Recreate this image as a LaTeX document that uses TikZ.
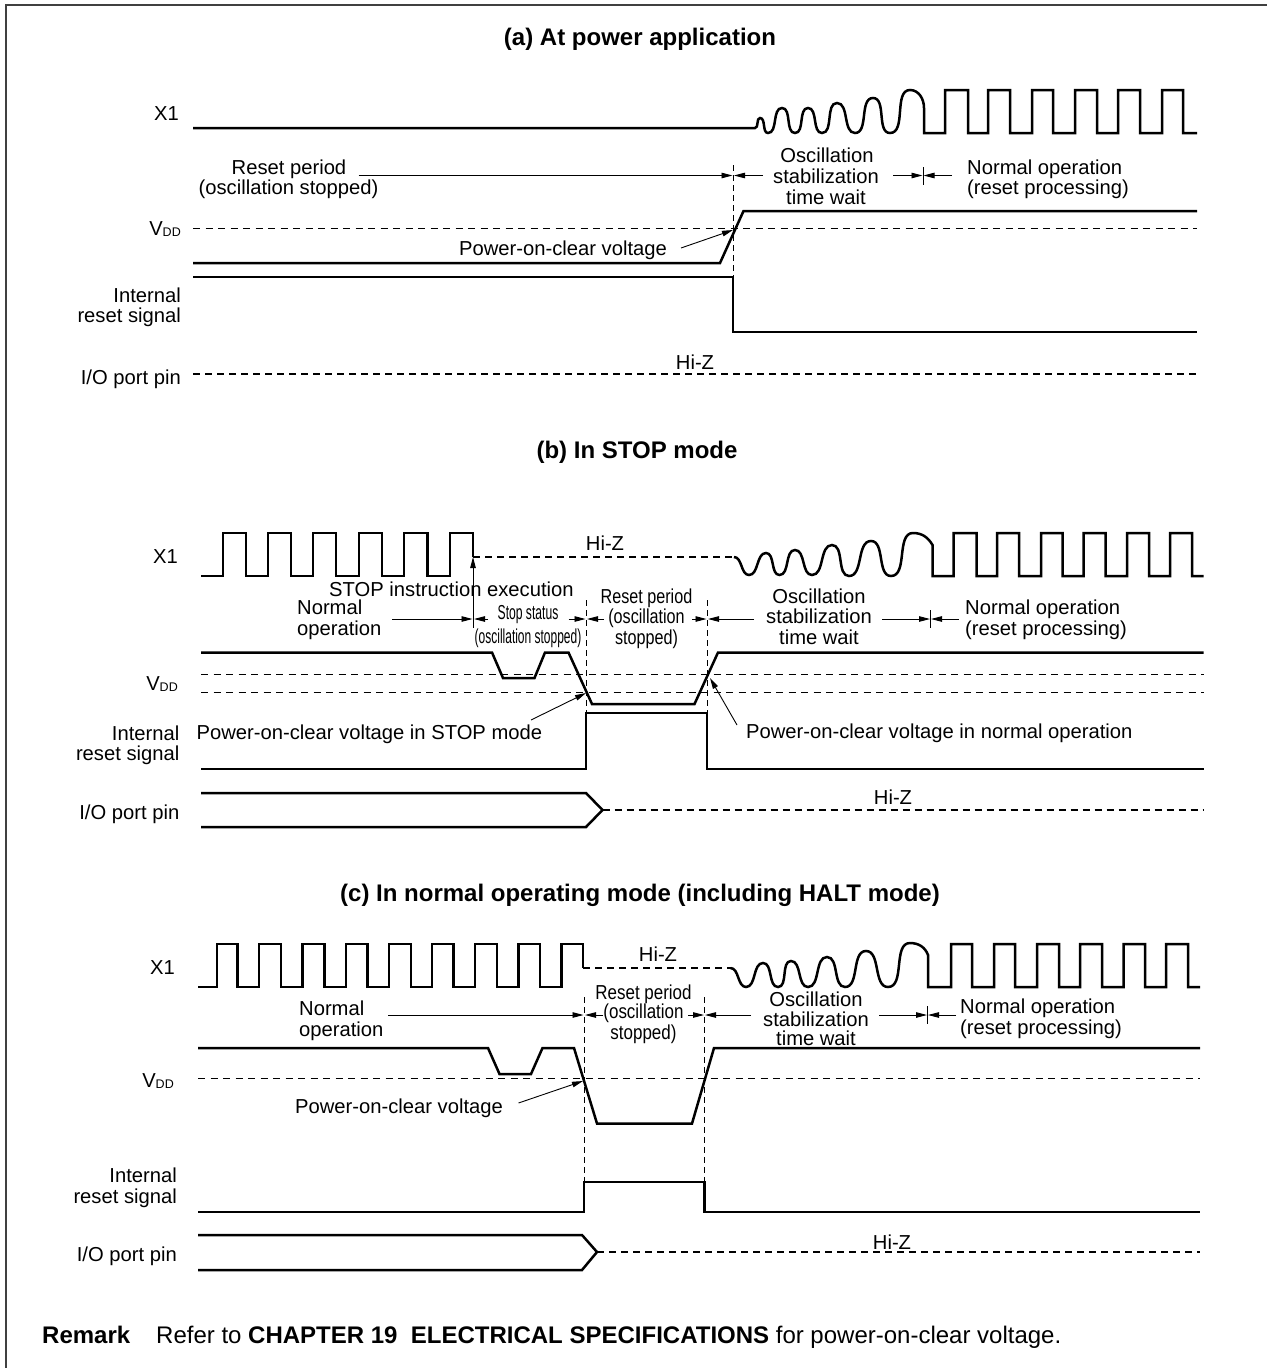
\documentclass[tikz,border=0pt]{standalone}
\usepackage{fontspec}
\setmainfont{Liberation Sans}
\usetikzlibrary{arrows.meta}
\tikzset{
  x=1pt,y=-1pt,
  sig/.style={line width=2.5pt,line join=miter},
  hiz/.style={line width=2.2pt,dash pattern=on 7pt off 5pt},
  refline/.style={line width=1pt,dash pattern=on 7pt off 5.5pt},
  vguide/.style={line width=1pt,dash pattern=on 6pt off 4pt},
  dim/.style={line width=.9pt,-{Triangle[length=11pt,width=5.5pt]}},
  tick/.style={line width=.9pt},
  lbl/.style={inner sep=0pt,text height=14pt,text depth=0pt,font=\fontsize{20.2}{23}\selectfont},
  rlbl/.style={lbl,anchor=east},
  llbl/.style={lbl,anchor=west},
  ttl/.style={lbl,text height=17pt,font=\fontsize{24}{28}\selectfont\bfseries},
  rem/.style={ttl,anchor=west,font=\fontsize{24}{28}\selectfont},
  wv/.style={out=0,in=180,looseness=.9},
}
\newcommand{\vdd}{V\raisebox{-1.5pt}{\fontsize{12.5}{12.5}\selectfont DD}}
\begin{document}
\begin{tikzpicture}
\useasboundingbox (0,0) rectangle (1267,1368);
\draw[line width=1.2pt,black!75] (6,1368) -- (6,5) -- (1267,5);
% ---------- (a)
\node[ttl] (ta) at (640,37) {(a) At power application};
\node[rlbl] (a1) at (179,113) {X1};
\node[lbl] (a2) at (289,167) {Reset period};
\node[lbl] (a3) at (288.5,187) {(oscillation stopped)};
\node[lbl] (a4) at (827,155) {Oscillation};
\node[lbl] (a5) at (826,176) {stabilization};
\node[lbl] (a6) at (826,197) {time wait};
\node[llbl] (a7) at (967,167) {Normal operation};
\node[llbl] (a8) at (967,187) {(reset processing)};
\node[rlbl] (a9) at (181,228) {\vdd};
\node[rlbl] (a10) at (181,295) {Internal};
\node[rlbl] (a10b) at (181,315) {reset signal};
\node[rlbl] (a11) at (181,377) {I/O port pin};
\node[lbl] (a12) at (695,362) {Hi-Z};
\node[llbl] (a13) at (459,248) {Power-on-clear voltage};
\coordinate (as) at (193,128);
\draw[sig] (as) -- (755,128) to[wv] (760,118) to[wv] (768,133) to[wv] (782,108) to[wv] (795,133) to[wv] (808,108) to[wv] (822,133) to[wv] (837,103) to[wv] (855,133) to[wv] (873,98) to[wv] (890,133) to[wv] (910,90) to[out=0,in=90] (924,108) -- (924,133) -- (945,133) -- (945,90) -- (968,90) -- (968,133) -- (988,133) -- (988,90) -- (1010,90) -- (1010,133) -- (1032,133) -- (1032,90) -- (1053,90) -- (1053,133) -- (1075,133) -- (1075,90) -- (1097,90) -- (1097,133) -- (1118,133) -- (1118,90) -- (1140,90) -- (1140,133) -- (1162,133) -- (1162,90) -- (1183,90) -- (1183,133) -- (1197,133);
\draw[refline] (193,228) -- (1197,228);
\draw[sig] (193,263) -- (720,263) -- (743.5,211) -- (1197,211);
\draw[sig] (193,277) -- (733,277) -- (733,332) -- (1197,332);
\draw[hiz] (193,374) -- (1197,374);
\draw[vguide] (733,165) -- (733,277);
\draw[dim] (358.5,175.5) -- (732.5,175.5);
\draw[dim] (763,175.5) -- (734,175.5);
\draw[dim] (893,175.5) -- (922.5,175.5);
\draw[tick] (923,167) -- (923,185);
\draw[dim] (952,175.5) -- (923.5,175.5);
\draw[dim] (681,248) -- (733,230);
% ---------- (b)
\node[ttl] (tb) at (637,450) {(b) In STOP mode};
\node[rlbl] (b1) at (178,556) {X1};
\node[lbl] (b2) at (605,543) {Hi-Z};
\node[llbl] (b3) at (329,589) {STOP instruction execution};
\node[llbl] (b4) at (297,607) {Normal};
\node[llbl] (b5) at (297,628) {operation};
\node[lbl] (b6) at (528,612) {\scalebox{.6}[1]{Stop status}};
\node[lbl] (b7) at (528,636) {\scalebox{.593}[1]{(oscillation stopped)}};
\node[lbl] (b8) at (646.5,596) {\scalebox{.8}[1]{Reset period}};
\node[lbl] (b9) at (646.5,616) {\scalebox{.8}[1]{(oscillation}};
\node[lbl] (b10) at (646.5,637) {\scalebox{.8}[1]{stopped)}};
\node[lbl] (b11) at (819,596) {Oscillation};
\node[lbl] (b12) at (819,616) {stabilization};
\node[lbl] (b13) at (819,637) {time wait};
\node[llbl] (b14) at (965,607) {Normal operation};
\node[llbl] (b15) at (965,628) {(reset processing)};
\node[rlbl] (b16) at (178,683) {\vdd};
\node[rlbl] (b17) at (179.5,733) {Internal};
\node[rlbl] (b17b) at (179.5,753) {reset signal};
\node[rlbl] (b18) at (179.5,812.5) {I/O port pin};
\node[llbl] (b19) at (196.5,732) {Power-on-clear voltage in STOP mode};
\node[llbl] (b20) at (746,731) {Power-on-clear voltage in normal operation};
\node[lbl] (b21) at (893,797) {Hi-Z};
\coordinate (bs) at (201,576);
\draw[sig] (bs) -- (223,576) -- (223,533) -- (246,533) -- (246,576) -- (268,576) -- (268,533) -- (291,533) -- (291,576) -- (313,576) -- (313,533) -- (336,533) -- (336,576) -- (359,576) -- (359,533) -- (382,533) -- (382,576) -- (404,576) -- (404,533) -- (427.5,533) -- (427.5,576) -- (450,576) -- (450,533) -- (473,533) -- (473,557);
\draw[hiz] (473,557) -- (734,557);
\draw[sig] (734,557) to[wv] (749,575) to[wv] (766,553) to[wv] (779.5,575) to[wv] (795,550) to[wv] (812,575) to[wv] (832,545) to[wv] (849,576) to[wv] (871,541) to[wv] (891,576) to[wv] (913,533) to[out=0,in=120] (932.5,545) -- (932.5,576) -- (953.5,576) -- (953.5,533) -- (976.5,533) -- (976.5,576) -- (997,576) -- (997,533) -- (1019,533) -- (1019,576) -- (1041,576) -- (1041,533) -- (1062.5,533) -- (1062.5,576) -- (1083.5,576) -- (1083.5,533) -- (1105.5,533) -- (1105.5,576) -- (1127,576) -- (1127,533) -- (1149,533) -- (1149,576) -- (1170,576) -- (1170,533) -- (1192,533) -- (1192,576) -- (1203.5,576);
\draw[refline] (201,674) -- (1203.5,674);
\draw[refline] (201,692) -- (1203.5,692);
\draw[sig] (201,652.5) -- (492,652.5) -- (503,678) -- (534.5,678) -- (545,652.5) -- (568.5,652.5) -- (592,704) -- (694.5,704) -- (718,652.5) -- (1203.5,652.5);
\draw[sig] (201,769) -- (586,769) -- (586,713) -- (707,713) -- (707,769) -- (1203.5,769);
\draw[sig] (201,793) -- (586,793) -- (602.5,810) -- (586,827) -- (201,827);
\draw[hiz] (602.5,810) -- (1203.5,810);
\draw[vguide] (586,600) -- (586,713);
\draw[vguide] (707,600) -- (707,713);
\draw[dim] (473,597) -- (473,557);
\draw[tick] (473,597) -- (473,628);
\draw[dim] (392,619) -- (472.5,619);
\draw[dim] (488,619) -- (474,619);
\draw[dim] (568.5,619) -- (585.5,619);
\draw[dim] (604,619) -- (587,619);
\draw[dim] (692,619) -- (706.5,619);
\draw[dim] (754,619) -- (708,619);
\draw[dim] (882,619) -- (930,619);
\draw[tick] (930.5,610) -- (930.5,628);
\draw[dim] (958.5,619) -- (931,619);
\draw[dim] (531,720) -- (586,693);
\draw[dim] (737,725) -- (710,678);
% ---------- (c)
\node[ttl] (tc) at (640,893) {(c) In normal operating mode (including HALT mode)};
\node[rlbl] (c1) at (175,967) {X1};
\node[lbl] (c2) at (658,954) {Hi-Z};
\node[llbl] (c3) at (299,1008) {Normal};
\node[llbl] (c4) at (299,1029) {operation};
\node[lbl] (c5) at (643.5,992) {\scalebox{.84}[1]{Reset period}};
\node[lbl] (c6) at (643.5,1011) {\scalebox{.84}[1]{(oscillation}};
\node[lbl] (c7) at (643.5,1032) {\scalebox{.84}[1]{stopped)}};
\node[lbl] (c8) at (816,999) {Oscillation};
\node[lbl] (c9) at (816,1019) {stabilization};
\node[lbl] (c10) at (816,1038) {time wait};
\node[llbl] (c11) at (960,1006) {Normal operation};
\node[llbl] (c12) at (960,1027) {(reset processing)};
\node[rlbl] (c13) at (174,1080) {\vdd};
\node[rlbl] (c14) at (177,1175) {Internal};
\node[rlbl] (c14b) at (177,1196) {reset signal};
\node[rlbl] (c15) at (177,1254) {I/O port pin};
\node[llbl] (c16) at (295,1106) {Power-on-clear voltage};
\node[lbl] (c17) at (892,1242) {Hi-Z};
\coordinate (cs) at (198,987);
\draw[sig] (cs) -- (217,987) -- (217,944) -- (237.5,944) -- (237.5,987) -- (259,987) -- (259,944) -- (281,944) -- (281,987) -- (302.5,987) -- (302.5,944) -- (324.5,944) -- (324.5,987) -- (346,987) -- (346,944) -- (367.5,944) -- (367.5,987) -- (389,987) -- (389,944) -- (411,944) -- (411,987) -- (432,987) -- (432,944) -- (453.5,944) -- (453.5,987) -- (475,987) -- (475,944) -- (497,944) -- (497,987) -- (518.5,987) -- (518.5,944) -- (540,944) -- (540,987) -- (561.5,987) -- (561.5,944) -- (583,944) -- (583,968);
\draw[hiz] (583,968) -- (730.5,968);
\draw[sig] (730.5,968) to[wv] (746,987) to[wv] (763,963) to[wv] (778,987) to[wv] (791,961) to[wv] (808,987) to[wv] (827,957) to[wv] (845,987) to[wv] (866,951) to[wv] (888,987) to[wv] (910,943) to[out=0,in=110] (928,955) -- (928,987) -- (951,987) -- (951,944) -- (972,944) -- (972,987) -- (994,987) -- (994,944) -- (1015,944) -- (1015,987) -- (1037,987) -- (1037,944) -- (1059,944) -- (1059,987) -- (1080,987) -- (1080,944) -- (1102,944) -- (1102,987) -- (1123.5,987) -- (1123.5,944) -- (1145,944) -- (1145,987) -- (1166,987) -- (1166,944) -- (1188,944) -- (1188,987) -- (1200,987);
\draw[refline] (198,1078) -- (1200,1078);
\draw[sig] (198,1048) -- (488,1048) -- (499.5,1074) -- (531,1074) -- (542.5,1048) -- (574,1048) -- (597,1123.5) -- (692,1123.5) -- (714,1048) -- (1200,1048);
\draw[sig] (198,1212) -- (584,1212) -- (584,1182) -- (704.5,1182) -- (704.5,1212) -- (1200,1212);
\draw[sig] (198,1235) -- (582,1235) -- (597,1252) -- (582,1270) -- (198,1270);
\draw[hiz] (597,1252) -- (1200,1252);
\draw[vguide] (584,997) -- (584,1182);
\draw[vguide] (704.5,997) -- (704.5,1182);
\draw[dim] (388,1015) -- (583.5,1015);
\draw[dim] (603,1015) -- (585,1015);
\draw[dim] (688,1015) -- (704,1015);
\draw[dim] (751,1015) -- (705,1015);
\draw[dim] (879,1015) -- (927,1015);
\draw[tick] (927.5,1006) -- (927.5,1024);
\draw[dim] (956,1015) -- (928,1015);
\draw[dim] (518.5,1103) -- (583,1081);
% ---------- remark
\node[rem,font=\fontsize{24}{28}\selectfont\bfseries] (r1) at (42,1335) {Remark};
\node[rem] (r2) at (156,1335) {Refer to \textbf{CHAPTER 19\ \ ELECTRICAL SPECIFICATIONS} for power-on-clear voltage.};
\end{tikzpicture}
\end{document}
